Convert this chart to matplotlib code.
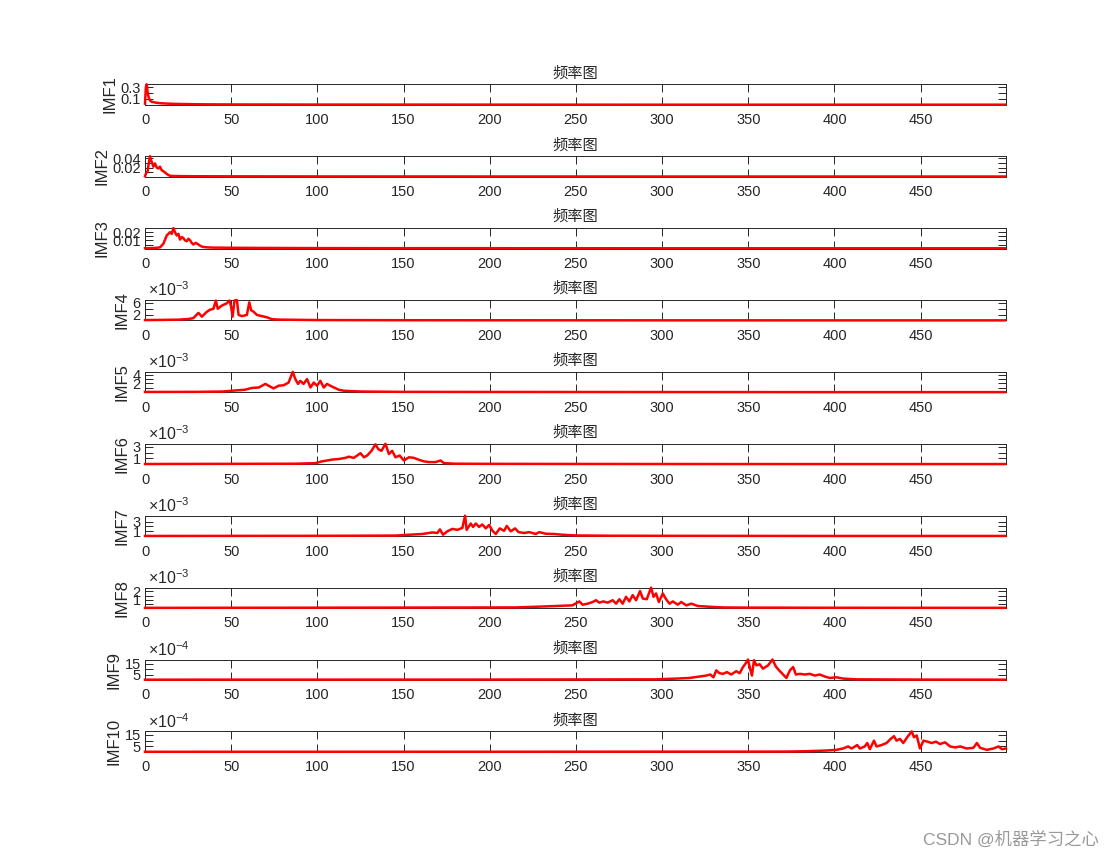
# IMF frequency spectra, 10 stacked panels (MATLAB-style subplot look)
import matplotlib
matplotlib.use("Agg")
import matplotlib.pyplot as plt

plt.rcParams['font.family'] = ['Liberation Sans', 'Noto Sans CJK SC', 'DejaVu Sans']
plt.rcParams['mathtext.fontset'] = 'custom'
plt.rcParams['mathtext.rm'] = 'Liberation Sans'

# data (frequency in Hz, amplitude in panel units)
names = ['IMF1', 'IMF2', 'IMF3', 'IMF4', 'IMF5', 'IMF6', 'IMF7', 'IMF8', 'IMF9', 'IMF10']
exponents = [0, 0, 0, -3, -3, -3, -3, -3, -4, -4]

f1 = [0, 0.5, 1, 1.5, 2, 2.5, 3, 4, 5, 6, 8, 10, 13, 16, 20, 26, 35, 50, 100, 200, 300, 400, 499]
a1 = [0.02, 0.3, 0.35, 0.22, 0.14, 0.1, 0.07, 0.05, 0.045, 0.038, 0.03, 0.025, 0.02, 0.017,
      0.014, 0.011, 0.008, 0.006, 0.004, 0.003, 0.002, 0.002, 0.002]

f2 = [0, 0.7, 1.5, 2.2, 2.9, 3.5, 4.2, 4.8, 5.8, 6.8, 7.8, 8.7, 9.7, 10.7, 11.7, 12.6, 13.5,
      14.5, 17, 22, 30, 50, 100, 200, 300, 400, 499]
a2 = [0.001, 0.008, 0.012, 0.03, 0.045, 0.036, 0.03, 0.022, 0.029, 0.02, 0.018, 0.022, 0.014,
      0.012, 0.009, 0.006, 0.004, 0.002, 0.0015, 0.0012, 0.001, 0.0008, 0.0006, 0.0005, 0.0004,
      0.0004, 0.0004]

f3 = [0, 3, 6, 8.7, 10.7, 12.6, 14.5, 15.5, 16.5, 17.4, 18.4, 19.4, 20.3, 21.3, 22.2, 23.2,
      24.2, 25.2, 26.2, 27.1, 28, 29.5, 31, 32.4, 33.8, 36, 40, 50, 70, 100, 150, 200, 300, 400, 499]
a3 = [0.0005, 0.0006, 0.0008, 0.0015, 0.006, 0.016, 0.02, 0.018, 0.025, 0.02, 0.016, 0.018,
      0.011, 0.014, 0.013, 0.01, 0.009, 0.012, 0.01, 0.007, 0.005, 0.007, 0.005, 0.003, 0.002,
      0.0015, 0.0012, 0.001, 0.0008, 0.0006, 0.0005, 0.0005, 0.0004, 0.0004, 0.0004]

f4 = [0, 10, 20, 25, 28, 31, 33, 35.9, 37.8, 39.7, 41.1, 42.2, 44.6, 47.5, 49, 50, 50.8, 51.9,
      53.3, 54.3, 56.2, 59.1, 60.5, 61.6, 63, 64.9, 67.8, 70.7, 73.6, 78, 85, 100, 150, 200, 300,
      400, 499]
a4 = [0.15, 0.2, 0.3, 0.5, 0.8, 2.6, 1.3, 3.0, 3.7, 4.0, 6.8, 4.0, 5.1, 5.9, 6.8, 4.6, 1.3, 6.8,
      7.0, 1.9, 1.5, 1.9, 6.2, 3.5, 3.0, 1.9, 1.5, 1.1, 0.45, 0.3, 0.25, 0.15, 0.1, 0.08, 0.06,
      0.05, 0.05]

f5 = [0, 30, 45, 50.4, 58, 62, 66, 69.8, 71.7, 74.6, 77.5, 80.4, 83.3, 85.7, 87.2, 88.8, 90.1,
      92, 94, 96, 97.9, 99.8, 101.7, 103.7, 105.6, 108.5, 112.4, 115.3, 125, 150, 200, 300, 400, 499]
a5 = [0.1, 0.12, 0.2, 0.37, 0.6, 1.0, 1.1, 1.9, 1.5, 0.9, 1.5, 1.6, 2.2, 4.6, 3.0, 1.9, 2.6,
      1.9, 3.0, 1.1, 2.2, 1.5, 2.6, 1.1, 1.9, 1.3, 0.6, 0.37, 0.2, 0.12, 0.1, 0.08, 0.06, 0.06]

f6 = [0, 50, 87.2, 98.8, 102.7, 108.5, 112.4, 116.3, 118.2, 121.1, 123.1, 125, 127, 128.9,
      131.4, 133.7, 135.3, 137.2, 139.5, 141.5, 143.4, 145.3, 147.7, 150.2, 153.1, 156, 158.9,
      161.8, 164.7, 168.6, 171.5, 173.4, 180.2, 200, 250, 300, 400, 499]
a6 = [0.05, 0.08, 0.1, 0.2, 0.5, 0.8, 0.9, 1.1, 1.3, 1.1, 1.5, 1.9, 1.2, 1.5, 2.3, 3.4, 2.6,
      2.3, 3.5, 1.75, 2.3, 1.2, 1.5, 0.65, 1.2, 1.1, 0.77, 0.5, 0.38, 0.38, 0.65, 0.2, 0.1, 0.08,
      0.06, 0.05, 0.04, 0.04]

f7 = [0, 100, 145.3, 153.1, 160.9, 166.7, 169.6, 171.1, 172.9, 175.4, 178.3, 181.2, 184.1,
      185.7, 186.6, 189, 190.3, 191.9, 193.8, 195.7, 197.7, 199.6, 201.6, 203.5, 205.8, 208.3,
      209.9, 212.2, 214.7, 216.7, 220, 222.9, 226.7, 228.7, 232.6, 237.4, 242.2, 250, 270, 300,
      400, 499]
a7 = [0.05, 0.08, 0.13, 0.3, 0.45, 0.77, 0.65, 1.4, 0.3, 1.0, 1.5, 1.3, 1.7, 4.2, 1.3, 2.6, 1.9,
      2.6, 1.9, 2.4, 1.6, 2.3, 1.1, 0.45, 1.6, 1.1, 2.1, 1.0, 1.6, 0.84, 0.65, 0.84, 0.45, 0.84,
      0.5, 0.45, 0.3, 0.15, 0.1, 0.08, 0.05, 0.05]

f8 = [0, 100, 215.1, 226.7, 238.4, 248, 252, 253.9, 256.8, 259.7, 261.6, 263.6, 265.9, 268.4,
      271.3, 273.3, 275.2, 277.1, 279.1, 281, 282.9, 284.9, 287.2, 288.8, 291.1, 293.6, 295,
      296.5, 298.1, 300.4, 302.3, 304.3, 306.2, 309.1, 311.1, 314, 316.9, 320.7, 327.5, 335.3,
      350, 400, 499]
a8 = [0.03, 0.05, 0.08, 0.16, 0.25, 0.33, 0.8, 0.4, 0.53, 0.73, 0.94, 0.65, 0.8, 0.65, 0.94,
      0.53, 1.06, 0.53, 1.35, 0.8, 1.55, 0.94, 2.04, 1.14, 1.06, 2.45, 1.35, 1.75, 0.73, 1.75,
      1.06, 0.53, 0.8, 0.41, 0.73, 0.33, 0.53, 0.25, 0.16, 0.08, 0.06, 0.04, 0.03]

f9 = [0, 200, 296.5, 308.1, 315.9, 321.7, 325.6, 327.9, 329.8, 331.4, 333.3, 335.3, 337.6,
      340.1, 343, 345, 346.9, 348.4, 349.8, 350.8, 352.1, 353.3, 354.7, 356.6, 358.5, 361.5, 364,
      365.9, 367.9, 369.8, 372.1, 374.1, 376, 377.6, 379.9, 382.8, 385.7, 388.6, 391.5, 394.4,
      397.3, 401.2, 405.1, 412.8, 450, 499]
a9 = [0.3, 0.4, 0.6, 1.3, 1.9, 3.2, 4.1, 5.1, 2.5, 8.9, 6.3, 5.7, 7.3, 5.1, 8.2, 6.3, 12, 15.2,
      19, 12, 4.1, 18.4, 13.6, 14.6, 10.5, 13.6, 19, 12.7, 8.9, 5.7, 1.9, 8.9, 12, 5.1, 5.7, 5.1,
      5.7, 4.1, 5.1, 3.2, 1.9, 2.5, 1.3, 0.6, 0.4, 0.3]

f10 = [0, 200, 350, 372.1, 383.7, 395.3, 401.2, 405, 407.9, 409.9, 413.2, 414.7, 417.6, 419,
       420.5, 422.9, 424.4, 427.3, 430.2, 432.6, 434.5, 436, 438, 439.9, 442.2, 444.8, 446.1,
       447.7, 449.6, 451.6, 453.9, 456.4, 458.9, 461.2, 464.1, 467.1, 470, 472.9, 476.7, 480.6,
       482.6, 484.5, 488.4, 492.2, 495.2, 497.1, 499.5]
a10 = [0.1, 0.15, 0.25, 0.3, 0.6, 1.2, 1.8, 3.0, 4.8, 3.0, 6.0, 3.0, 4.8, 7.8, 2.4, 9.9, 4.8,
       6.0, 7.8, 11.4, 13.8, 9.9, 11.4, 7.8, 12.9, 18, 12.9, 14.4, 3.0, 9.9, 9.0, 7.8, 9.0, 6.9,
       8.4, 4.8, 3.9, 4.8, 3.0, 3.6, 7.8, 3.6, 1.8, 3.0, 4.8, 2.4, 3.0]

freqs = [f1, f2, f3, f4, f5, f6, f7, f8, f9, f10]
amps = [a1, a2, a3, a4, a5, a6, a7, a8, a9, a10]

yticks = [[0.1, 0.2, 0.3], [0.01, 0.02, 0.03, 0.04], [0.005, 0.01, 0.015, 0.02],
          [2, 4, 6], [1, 2, 3, 4], [1, 2, 3], [1, 2, 3], [0.5, 1, 1.5, 2], [5, 10, 15], [5, 10, 15]]
yticklabels = [['0.1', '', '0.3'], ['', '0.02', '', '0.04'], ['', '0.01', '', '0.02'],
               ['2', '', '6'], ['', '2', '', '4'], ['1', '', '3'], ['1', '', '3'],
               ['', '1', '', '2'], ['5', '', '15'], ['5', '', '15']]
xticks = [0, 50, 100, 150, 200, 250, 300, 350, 400, 450]

fig = plt.figure(figsize=(11.13, 8.58), dpi=100)
dark = '#262626'

for i in range(10):
    top_px = 84.3 + 71.9 * i
    ax = fig.add_axes([145 / 1113, 1 - (top_px + 20.5) / 858, 861 / 1113, 20.5 / 858])
    ax.plot(freqs[i], amps[i], color='red', lw=1.8, zorder=3, clip_on=False)
    ax.set_xlim(0, 499.5)
    ax.set_ylim(0, max(amps[i]))
    ax.set_xticks(xticks)
    ax.set_yticks(yticks[i])
    ax.set_yticklabels(yticklabels[i])
    ax.tick_params(direction='in', length=6, width=0.7, colors=dark, labelsize=10.5,
                   top=True, right=True)
    ax.tick_params(axis='x', pad=6)
    ax.tick_params(axis='y', pad=3)
    for s in ax.spines.values():
        s.set_color(dark)
        s.set_linewidth(0.7)
    ax.set_title('频率图', fontsize=11, color=dark, pad=5, family=['Noto Sans CJK SC'])
    ax.set_ylabel(names[i], fontsize=12, color=dark, labelpad=2)
    if exponents[i] != 0:
        ax.text(0.003, 1.03, r'$\times\mathregular{10^{%d}}$' % exponents[i],
                transform=ax.transAxes, fontsize=11.5, color=dark, ha='left', va='bottom')

fig.text(0.987, 0.012, 'CSDN @机器学习之心', fontsize=12.5, color='#999999', ha='right',
         va='bottom', family=['Liberation Sans', 'Noto Sans CJK SC'])

fig.savefig('out.png', dpi=100)
